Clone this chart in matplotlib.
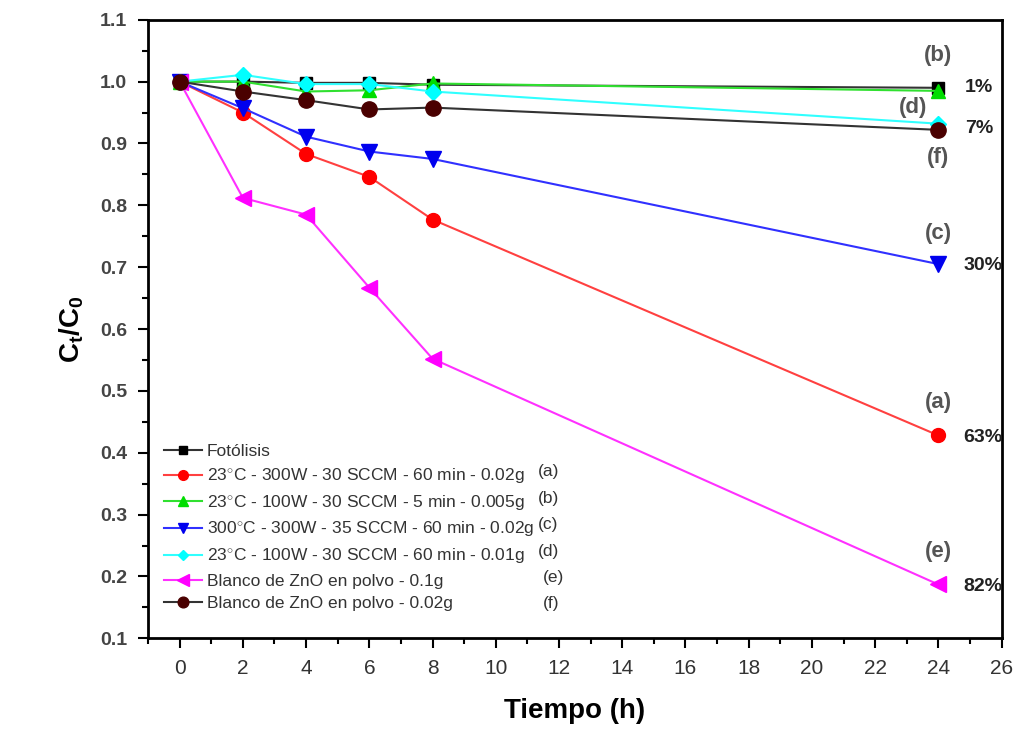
import matplotlib.pyplot as plt
from matplotlib.ticker import MultipleLocator

plt.rcParams['font.family'] = ['Liberation Sans', 'DejaVu Sans']
plt.rcParams['mathtext.fontset'] = 'custom'
plt.rcParams['mathtext.rm'] = 'Liberation Sans'
plt.rcParams['mathtext.bf'] = 'Liberation Sans:bold'

tiempo = [0, 2, 4, 6, 8, 24]

fotolisis = [1.0, 1.0, 0.998, 0.998, 0.995, 0.99]
serie_a = [1.0, 0.95, 0.883, 0.846, 0.777, 0.428]
serie_b = [1.0, 1.0, 0.984, 0.986, 0.997, 0.985]
serie_c = [1.0, 0.957, 0.911, 0.887, 0.875, 0.705]
serie_d = [1.0, 1.011, 0.996, 0.996, 0.984, 0.932]
serie_e = [1.0, 0.812, 0.785, 0.667, 0.552, 0.187]
serie_f = [1.0, 0.984, 0.97, 0.955, 0.958, 0.922]

labels = [
    "Fotólisis",
    "23$^{\\circ}$C - 300W - 30 SCCM - 60 min - 0.02g",
    "23$^{\\circ}$C - 100W - 30 SCCM - 5 min - 0.005g",
    "300$^{\\circ}$C - 300W - 35 SCCM - 60 min - 0.02g",
    "23$^{\\circ}$C - 100W - 30 SCCM - 60 min - 0.01g",
    "Blanco de ZnO en polvo - 0.1g",
    "Blanco de ZnO en polvo - 0.02g",
]
letras = ["(a)", "(b)", "(c)", "(d)", "(e)", "(f)"]

fig = plt.figure(figsize=(10.21, 7.32), dpi=100)
ax = fig.add_axes([0.145, 0.128, 0.836, 0.845])

series = [fotolisis, serie_a, serie_b, serie_c, serie_d, serie_e, serie_f]
line_cols = ["#333333", "#ff4040", "#30e030", "#3030ff", "#30ffff", "#ff30ff", "#333333"]
mk_cols = ["black", "#ff0000", "#00dd00", "#0000ee", "#00ffff", "#ff00ff", "#4a0000"]
markers = ["s", "o", "^", "v", "D", "<", "o"]
sizes = [8, 10, 10, 11, 8, 12, 11]

for y, lc, mc, m, s, lab in zip(series, line_cols, mk_cols, markers, sizes, labels):
    ax.plot(tiempo, y, color=lc, marker=m, markersize=s, markerfacecolor=mc,
            markeredgecolor=mc, linewidth=1.5, label=lab)

ax.set_xlim(-1, 26)
ax.set_ylim(0.1, 1.1)
ax.xaxis.set_major_locator(MultipleLocator(2))
ax.xaxis.set_minor_locator(MultipleLocator(1))
ax.yaxis.set_major_locator(MultipleLocator(0.1))
ax.yaxis.set_minor_locator(MultipleLocator(0.05))
ax.tick_params(which='major', direction='out', length=7, width=1.5, pad=8)
ax.tick_params(which='minor', direction='out', length=4, width=1.5)
for sp in ax.spines.values():
    sp.set_linewidth(2)
ax.set_xticklabels([str(int(v)) for v in ax.get_xticks()], fontsize=15, color='#333333')
ax.set_yticklabels([f"{v:.1f}" for v in ax.get_yticks()], fontsize=14, fontweight='bold',
                   color='#444444')

ax.set_xlabel("Tiempo (h)", fontsize=20, fontweight='bold', labelpad=14)
ax.set_ylabel("C$_\\mathbf{t}$/C$_\\mathbf{0}$", fontsize=20, fontweight='bold', labelpad=10)

leg = ax.legend(loc='upper left', bbox_to_anchor=(0.0, 0.34), frameon=False,
                prop={'size': 12.5}, handlelength=2.2,
                handletextpad=0.3, labelspacing=0.42, markerscale=0.7)
for t in leg.get_texts():
    t.set_color('#333333')

# letras junto a la leyenda
leg_y = [0.269, 0.226, 0.184, 0.140, 0.098, 0.057]
leg_x = [0.457, 0.457, 0.457, 0.457, 0.463, 0.463]
for letra, xx, yy in zip(letras, leg_x, leg_y):
    ax.text(xx, yy, letra, transform=ax.transAxes, fontsize=12.5, color='#333333',
            va='center')

# etiquetas de las curvas
ax.text(24, 1.042, "(b)", fontsize=16, fontweight='bold', color='#555555', ha='center', va='center')
ax.text(24.85, 0.99, "1%", fontsize=14, fontweight='bold', color='#222222', va='center')
ax.text(23.2, 0.958, "(d)", fontsize=16, fontweight='bold', color='#555555', ha='center', va='center')
ax.text(24.85, 0.925, "7%", fontsize=14, fontweight='bold', color='#222222', va='center')
ax.text(24, 0.877, "(f)", fontsize=16, fontweight='bold', color='#555555', ha='center', va='center')
ax.text(24, 0.755, "(c)", fontsize=16, fontweight='bold', color='#555555', ha='center', va='center')
ax.text(24.8, 0.702, "30%", fontsize=14, fontweight='bold', color='#222222', va='center')
ax.text(24, 0.482, "(a)", fontsize=16, fontweight='bold', color='#555555', ha='center', va='center')
ax.text(24.8, 0.425, "63%", fontsize=14, fontweight='bold', color='#222222', va='center')
ax.text(24, 0.24, "(e)", fontsize=16, fontweight='bold', color='#555555', ha='center', va='center')
ax.text(24.8, 0.184, "82%", fontsize=14, fontweight='bold', color='#222222', va='center')

fig.savefig("out.png", dpi=100)
